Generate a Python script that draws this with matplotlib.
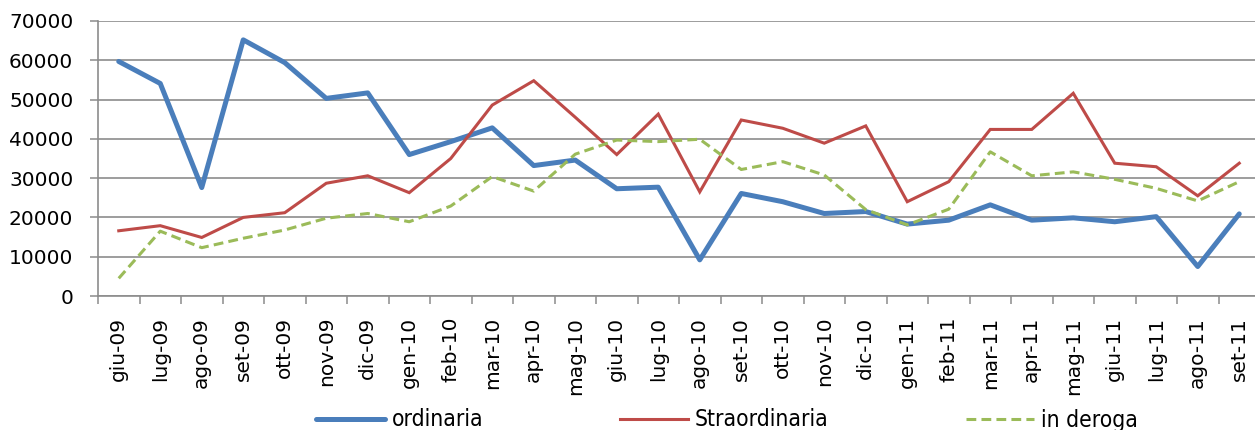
import matplotlib
matplotlib.use("Agg")
import matplotlib.pyplot as plt
import numpy as np

# monthly values, giu-09 .. set-11
months = ["giu-09", "lug-09", "ago-09", "set-09", "ott-09", "nov-09", "dic-09",
          "gen-10", "feb-10", "mar-10", "apr-10", "mag-10", "giu-10", "lug-10",
          "ago-10", "set-10", "ott-10", "nov-10", "dic-10", "gen-11", "feb-11",
          "mar-11", "apr-11", "mag-11", "giu-11", "lug-11", "ago-11", "set-11"]

ordinaria = [59700, 54100, 27600, 65200, 59400, 50300, 51700, 36000, 39300,
             42800, 33200, 34600, 27300, 27700, 9200, 26100, 24000, 21000,
             21500, 18300, 19300, 23200, 19300, 19900, 18900, 20200, 7500, 20900]

straordinaria = [16600, 17900, 14900, 20000, 21200, 28700, 30600, 26300, 35000,
                 48600, 54800, 45500, 36000, 46300, 26500, 44800, 42700, 38900,
                 43300, 24000, 29100, 42400, 42400, 51600, 33800, 32900, 25500, 33800]

in_deroga = [4500, 16500, 12300, 14700, 16800, 19800, 21000, 18900, 22900,
             30400, 26700, 36100, 39700, 39300, 39900, 32200, 34200, 30800,
             22000, 18100, 22100, 36700, 30600, 31600, 29700, 27400, 24200, 29100]

y_ticks = [0, 10000, 20000, 30000, 40000, 50000, 60000, 70000]

W, H = 1255, 430
fig = plt.figure(figsize=(W / 100, H / 100), dpi=100)
ax = fig.add_axes([98 / W, (H - 296) / H, 1162 / W, 275 / H])

x = np.arange(len(months))
ax.plot(x, ordinaria, color="#4A7EBB", lw=3.6, solid_joinstyle="round",
        solid_capstyle="round", label="ordinaria", zorder=3)
ax.plot(x, straordinaria, color="#BE4B48", lw=2.2, solid_joinstyle="miter",
        label="Straordinaria", zorder=4)
ax.plot(x, in_deroga, color="#9BBB59", lw=2.2, dashes=(3.2, 1.7),
        dash_capstyle="butt", label="in deroga", zorder=5)

ax.set_xlim(-0.5, len(months) - 0.5)
ax.set_ylim(0, 70000)

grid_col = "#8C8C8C"
ax.set_yticks(y_ticks)
ax.set_yticklabels([str(v) for v in y_ticks])
ax.yaxis.grid(True, color=grid_col, lw=1.2)
ax.set_axisbelow(True)

ax.set_xticks(x)
ax.set_xticklabels(months, rotation=90, va="top", ha="center")
ax.set_xticks(np.arange(len(months) + 1) - 0.5, minor=True)
ax.tick_params(axis="x", which="major", length=0, pad=15, labelsize=14.5)
ax.tick_params(axis="x", which="minor", length=5.5, width=1.1, color=grid_col,
               direction="out")
ax.tick_params(axis="y", length=5.8, width=1.1, color=grid_col, pad=12,
               labelsize=14.5)

for side in ["top", "right"]:
    ax.spines[side].set_visible(False)
for side in ["left", "bottom"]:
    ax.spines[side].set_color(grid_col)
    ax.spines[side].set_linewidth(1.2)

leg = fig.legend(loc="center", bbox_to_anchor=(727 / W, (H - 420) / H), ncol=3,
                 frameon=False, borderpad=0, handlelength=3.0,
                 handletextpad=0.3, columnspacing=6.0,
                 prop={"family": "DejaVu Sans", "stretch": "condensed", "size": 16.4})

fig.savefig("out.png", dpi=100)
